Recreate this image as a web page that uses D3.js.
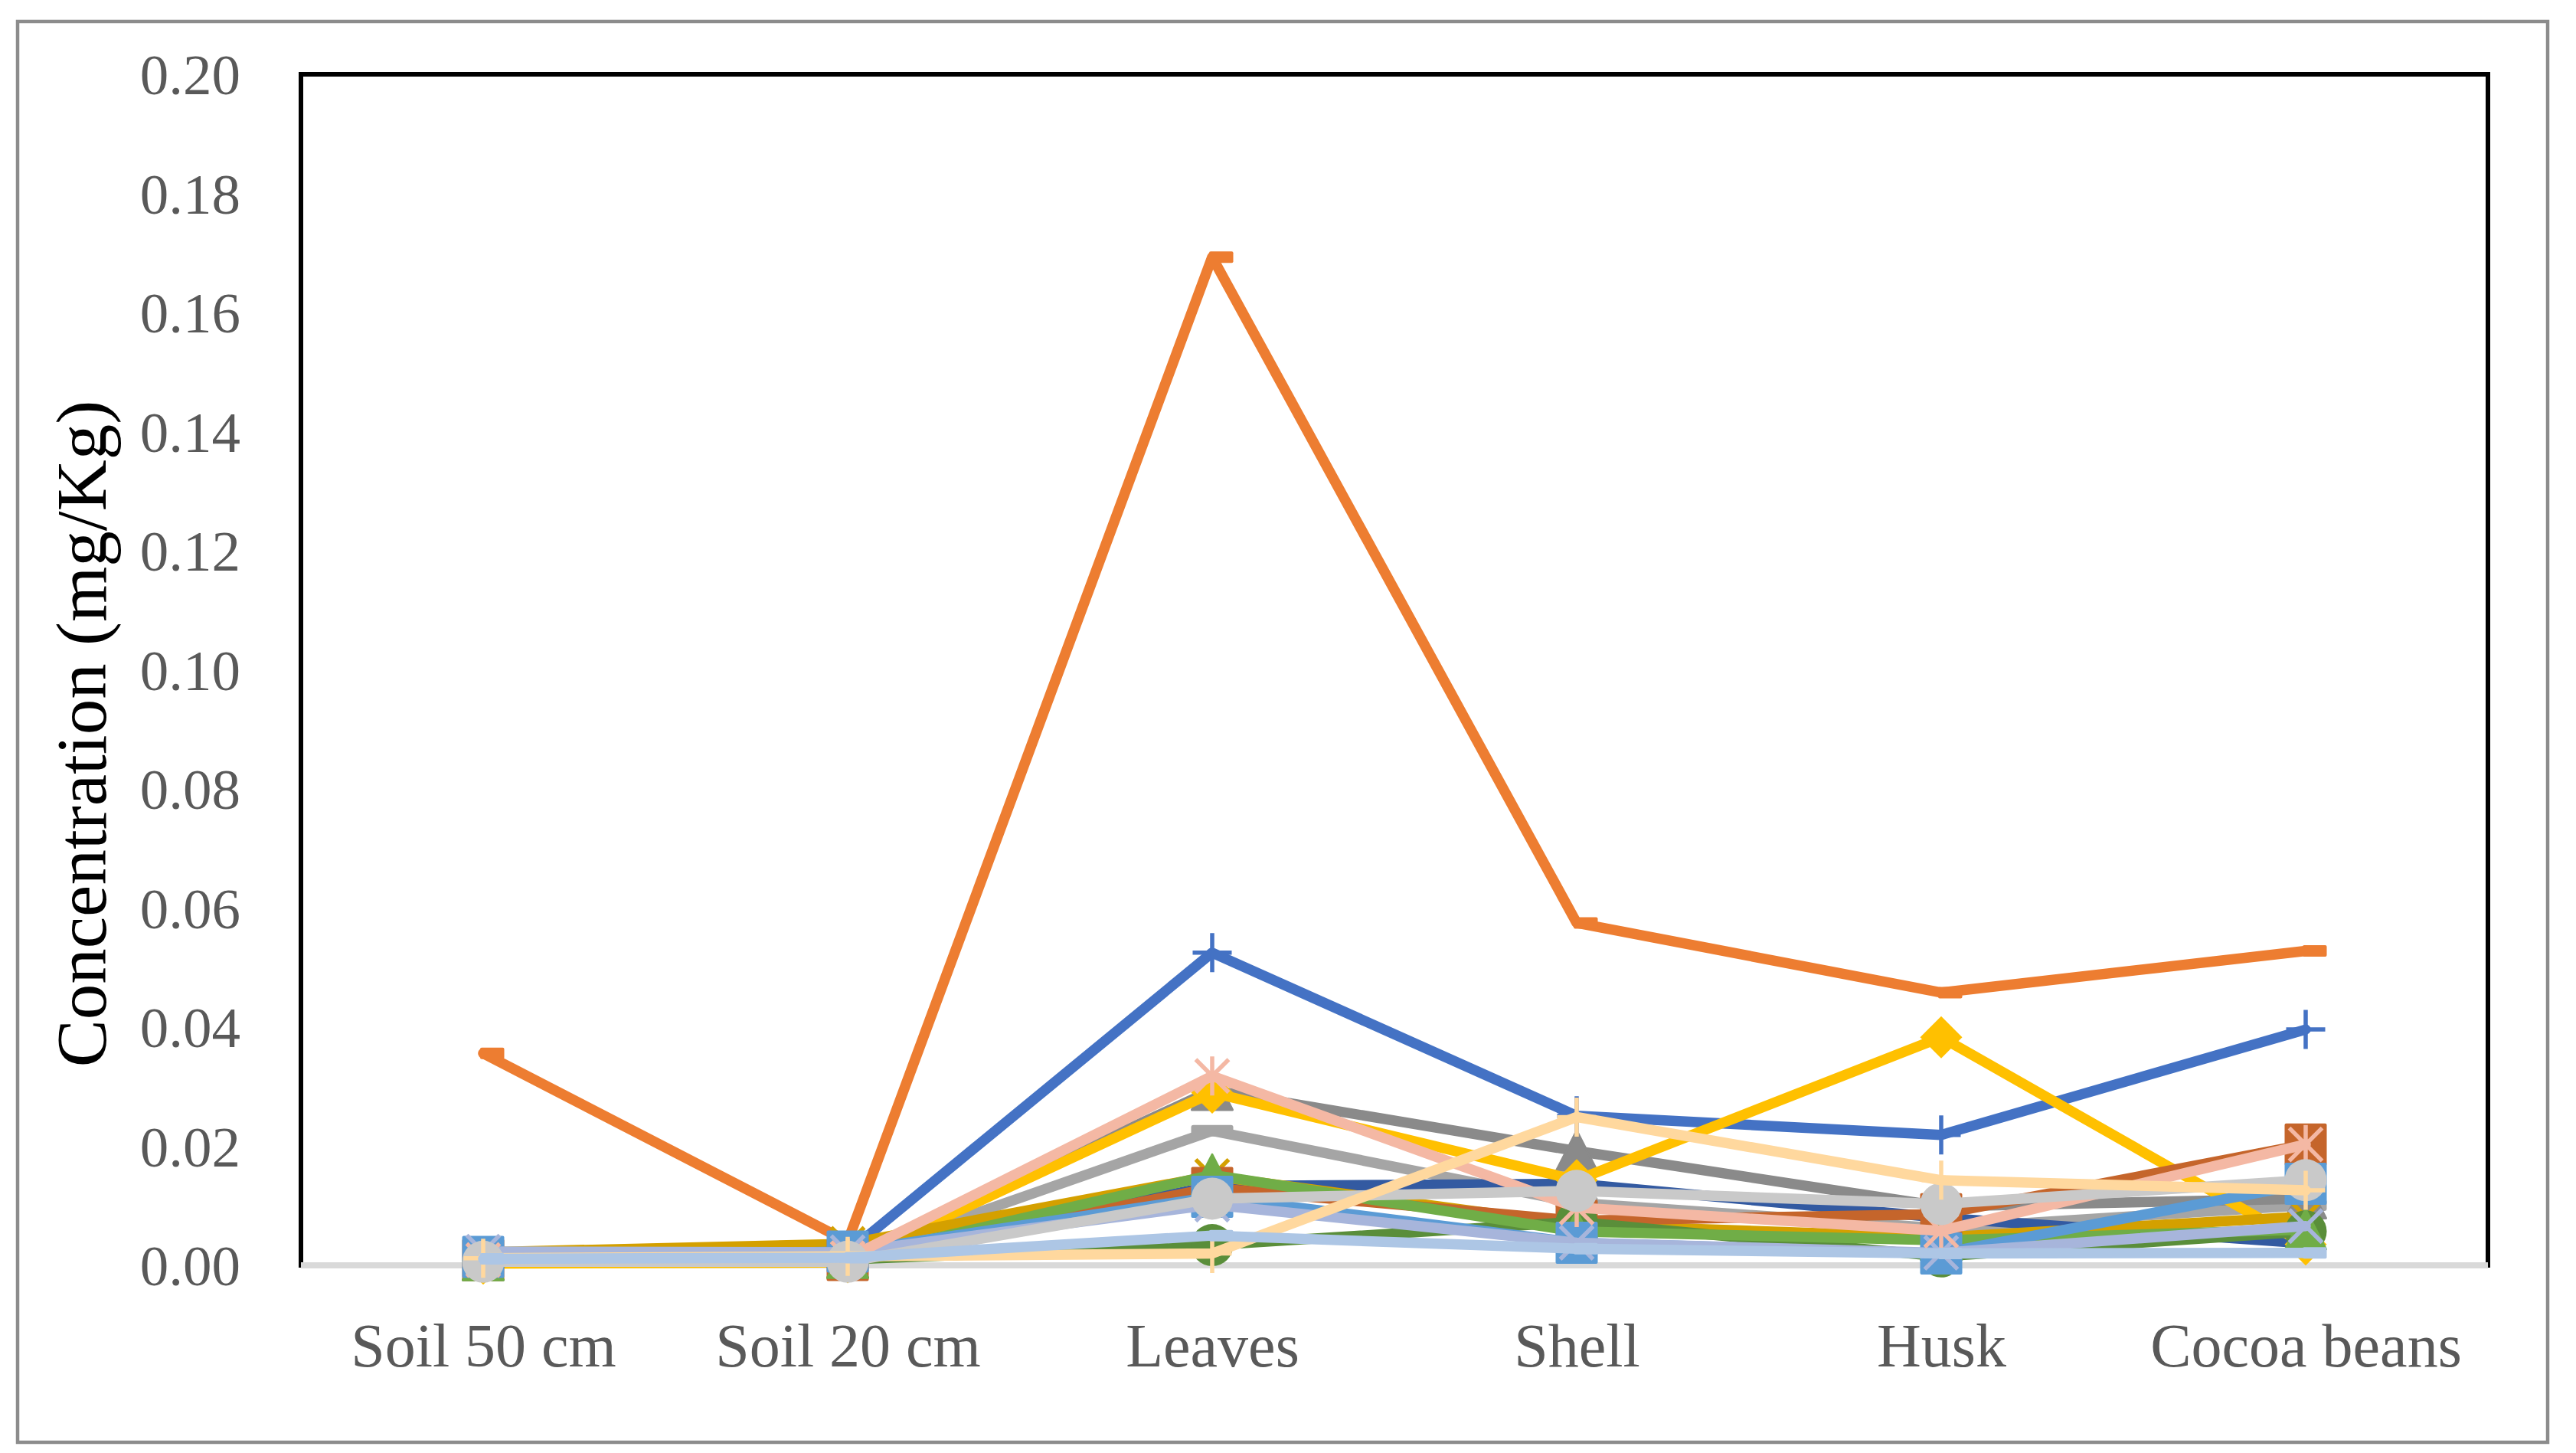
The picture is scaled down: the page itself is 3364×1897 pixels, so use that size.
<!DOCTYPE html>
<html>
<head>
<meta charset="utf-8">
<script src="https://cdn.jsdelivr.net/npm/d3@7/dist/d3.min.js"></script>
<style>
  html, body { margin: 0; padding: 0; background: #ffffff; }
  svg { display: block; }
</style>
</head>
<body>
<script>
// ---------------- DATA ----------------
const categories = ["Soil 50 cm", "Soil 20 cm", "Leaves", "Shell", "Husk", "Cocoa beans"];
const yTickValues = [0, 0.02, 0.04, 0.06, 0.08, 0.10, 0.12, 0.14, 0.16, 0.18, 0.20];
const yTitle = "Concentration (mg/Kg)";

const seriesBlue          = [0.0010, 0.0022, 0.0525, 0.0251, 0.0219, 0.0396];
const seriesOrange        = [0.0356, 0.0040, 0.1693, 0.0575, 0.0458, 0.0528];
const seriesGray          = [0.0008, 0.0012, 0.0226, 0.0105, 0.0062, 0.0101];
const seriesDarkBlue      = [0.0008, 0.0010, 0.0133, 0.0137, 0.0080, 0.0037];
const seriesDarkGray      = [0.0008, 0.0012, 0.0294, 0.0192, 0.0099, 0.0112];
const seriesGold          = [0.0003, 0.0005, 0.0290, 0.0143, 0.0383, 0.0035];
const seriesDarkGold      = [0.0022, 0.0036, 0.0150, 0.0068, 0.0047, 0.0082];
const seriesRust          = [0.0009, 0.0009, 0.0130, 0.0075, 0.0086, 0.0203];
const seriesDarkGreen     = [0.0008, 0.0010, 0.0034, 0.0073, 0.0015, 0.0057];
const seriesGreen         = [0.0008, 0.0012, 0.0152, 0.0057, 0.0042, 0.0060];
const seriesLightBlue     = [0.0014, 0.0023, 0.0115, 0.0038, 0.0020, 0.0137];
const seriesLavender      = [0.0023, 0.0022, 0.0102, 0.0038, 0.0021, 0.0066];
const seriesPink          = [0.0009, 0.0012, 0.0318, 0.0097, 0.0058, 0.0203];
const seriesLightGray     = [0.0006, 0.0006, 0.0112, 0.0125, 0.0103, 0.0143];
const seriesPeach         = [0.0012, 0.0015, 0.0020, 0.0249, 0.0143, 0.0126];
const seriesVeryLightBlue = [0.0011, 0.0013, 0.0050, 0.0028, 0.0020, 0.0021];

// draw order (bottom -> top)
const seriesValues = [seriesBlue, seriesOrange, seriesGray, seriesDarkBlue, seriesDarkGray, seriesGold,
  seriesDarkGold, seriesRust, seriesDarkGreen, seriesGreen, seriesLightBlue, seriesLavender,
  seriesPink, seriesLightGray, seriesPeach, seriesVeryLightBlue];

// ---------------- STYLES ----------------
const seriesColors = ["#4472C4", "#ED7D31", "#A5A5A5", "#335AA1", "#8A8A8A", "#FFC000",
  "#D4A000", "#C5652B", "#5A8E3A", "#70AD47", "#5B9BD5", "#A7B5DB",
  "#F4B8A4", "#C9C9C9", "#FFD89E", "#ADC6E5"];
const seriesMarkers = ["plus", "halfdash", "dash", "none", "triangle", "diamond",
  "x", "square", "circle", "triangle", "square", "x",
  "asterisk", "circle", "plus", "halfdash"];

const W = 3364, H = 1897;
const plot = { left: 393, right: 3249, top: 97, bottom: 1652 };
const LINE_W = 13.5, MS = 55, MSTROKE = 5.5;
const FONT = "'Palatino Linotype', 'Book Antiqua', Palatino, 'Liberation Serif', serif";

const svg = d3.select("body").append("svg")
  .attr("width", W).attr("height", H)
  .attr("viewBox", `0 0 ${W} ${H}`);

svg.append("rect").attr("width", W).attr("height", H).attr("fill", "#ffffff");

// outer chart border
svg.append("rect")
  .attr("x", 23).attr("y", 28).attr("width", 3304).attr("height", 1855)
  .attr("fill", "none").attr("stroke", "#8C8C8C").attr("stroke-width", 4.5);

const x = d3.scalePoint().domain(categories).range([plot.left, plot.right]).padding(0.5);
const y = d3.scaleLinear().domain([0, 0.2]).range([plot.bottom, plot.top]);

// plot area frame
svg.append("rect")
  .attr("x", plot.left).attr("y", plot.top)
  .attr("width", plot.right - plot.left).attr("height", plot.bottom - plot.top)
  .attr("fill", "none").attr("stroke", "#000000").attr("stroke-width", 6);

// y axis labels (no line, no ticks)
const yAxis = d3.axisLeft(y).tickValues(yTickValues).tickFormat(d3.format(".2f")).tickSize(0).tickPadding(0);
const gy = svg.append("g").attr("transform", `translate(314,0)`).call(yAxis);
gy.select(".domain").remove();
gy.selectAll("text")
  .attr("font-family", FONT).attr("font-size", 75).attr("fill", "#595959")
  .attr("x", 0).attr("dy", "0.34em");

// x axis: light gray line + labels
const xAxis = d3.axisBottom(x).tickSize(0).tickPadding(0);
const gx = svg.append("g").attr("transform", `translate(0,${plot.bottom})`).call(xAxis);
gx.select(".domain").attr("stroke", "#D9D9D9").attr("stroke-width", 8)
  .attr("d", `M${plot.left},0H${plot.right}`);
gx.selectAll("text")
  .attr("font-family", FONT).attr("font-size", 80).attr("fill", "#595959")
  .attr("y", 132).attr("dy", 0);

// y title
svg.append("text")
  .attr("transform", `translate(138,958) rotate(-90)`)
  .attr("text-anchor", "middle")
  .attr("font-family", FONT).attr("font-size", 93).attr("fill", "#000000")
  .text(yTitle);

// ---------------- SERIES ----------------
const line = d3.line().x((d, i) => x(categories[i])).y(d => y(d));
const h = MS / 2;

function drawMarker(g, type, color, cx, cy) {
  const m = g.append("g").attr("transform", `translate(${cx},${cy})`);
  if (type === "square") {
    m.append("rect").attr("x", -h + 2).attr("y", -h + 2).attr("width", MS - 4).attr("height", MS - 4)
      .attr("fill", color).attr("stroke", color).attr("stroke-width", 4).attr("stroke-linejoin", "round");
  } else if (type === "diamond") {
    m.append("path").attr("d", `M0,${-h}L${h},0L0,${h}L${-h},0Z`).attr("fill", color);
  } else if (type === "triangle") {
    m.append("path").attr("d", `M0,${-h + 1}L${h - 1},${h - 2}L${-h + 1},${h - 2}Z`)
      .attr("fill", color).attr("stroke", color).attr("stroke-width", 3).attr("stroke-linejoin", "round");
  } else if (type === "circle") {
    m.append("circle").attr("r", h).attr("fill", color);
  } else if (type === "plus") {
    m.append("path").attr("d", `M${-h + 2},0H${h - 2}M0,${-h + 2}V${h - 2}`)
      .attr("stroke", color).attr("stroke-width", MSTROKE).attr("fill", "none");
  } else if (type === "x") {
    const a = h - 6;
    m.append("path").attr("d", `M${-a},${-a}L${a},${a}M${-a},${a}L${a},${-a}`)
      .attr("stroke", color).attr("stroke-width", MSTROKE).attr("fill", "none");
  } else if (type === "asterisk") {
    const a = h - 6;
    m.append("path").attr("d", `M${-a},${-a}L${a},${a}M${-a},${a}L${a},${-a}M0,${-h + 2}V${h - 2}`)
      .attr("stroke", color).attr("stroke-width", MSTROKE).attr("fill", "none");
  } else if (type === "dash") {
    m.append("rect").attr("x", -h).attr("y", -7.5).attr("width", MS).attr("height", 15)
      .attr("rx", 3).attr("fill", color);
  } else if (type === "halfdash") {
    m.append("rect").attr("x", -4).attr("y", -7.5).attr("width", h + 4).attr("height", 15)
      .attr("rx", 2).attr("fill", color);
  }
}

seriesValues.forEach((vals, si) => {
  const color = seriesColors[si];
  const g = svg.append("g").attr("class", "series");
  g.append("path").datum(vals)
    .attr("d", line)
    .attr("fill", "none").attr("stroke", color).attr("stroke-width", LINE_W)
    .attr("stroke-linejoin", "round").attr("stroke-linecap", "round");
  if (seriesMarkers[si] !== "none") {
    vals.forEach((v, i) => drawMarker(g, seriesMarkers[si], color, x(categories[i]), y(v)));
  }
});
</script>
</body>
</html>
